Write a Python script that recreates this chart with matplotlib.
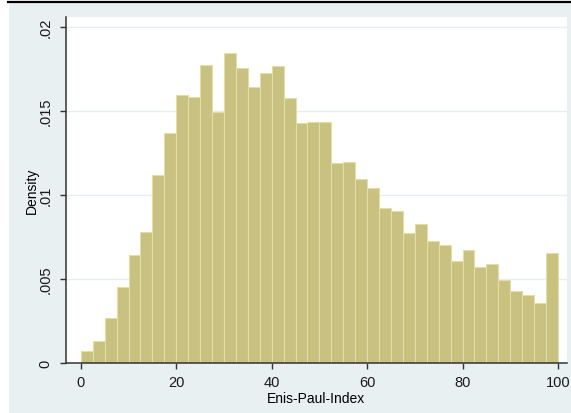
import matplotlib
matplotlib.use("Agg")
import matplotlib.pyplot as plt
from matplotlib.patches import Rectangle
from matplotlib.lines import Line2D
import numpy as np

# histogram of Enis-Paul-Index, 40 bins of width 2.5
bin_edges = np.arange(0, 102.5, 2.5)
density = [0.0007, 0.0013, 0.00266, 0.00454, 0.00641, 0.00778, 0.01119, 0.01369,
           0.01593, 0.01583, 0.01772, 0.01492, 0.01847, 0.01756, 0.01643, 0.01724,
           0.01766, 0.01577, 0.01427, 0.01432, 0.01432, 0.01188, 0.01196, 0.01093,
           0.01042, 0.00923, 0.00903, 0.00774, 0.00827, 0.00728, 0.00700, 0.00607,
           0.00675, 0.00573, 0.00587, 0.00494, 0.00429, 0.00405, 0.00357, 0.00655]

yticks = [0, 0.005, 0.01, 0.015, 0.02]
ytick_labels = ["0", ".005", ".01", ".015", ".02"]
xticks = [0, 20, 40, 60, 80, 100]

plt.rcParams.update({'font.family': ['Liberation Sans', 'DejaVu Sans'], 'font.size': 10})

W, H = 571, 414
fig = plt.figure(figsize=(W / 100, H / 100), dpi=100, facecolor='white')

# stata-like light bluish background and black rule on top
fig.add_artist(Rectangle((9 / W, 0), 1 - 9 / W, 1 - 4 / H, transform=fig.transFigure,
                         facecolor='#e8f0f2', edgecolor='none', zorder=0))
fig.add_artist(Line2D([8 / W, 1], [1 - 2.5 / H, 1 - 2.5 / H], transform=fig.transFigure,
                      color='black', linewidth=1.6))

ax = fig.add_axes([66 / W, 1 - 364 / H, (567 - 66) / W, (364 - 18) / H])
ax.set_facecolor('white')

ax.bar(bin_edges[:-1], density, width=np.diff(bin_edges), align='edge',
       color='#c9c17f', edgecolor='#e3dda9', linewidth=0.8, zorder=2)

ax.set_xlim(-3.1, 101.9)
ax.set_ylim(0, 0.0206)
ax.set_xticks(xticks)
ax.set_yticks(yticks)
ax.set_yticklabels(ytick_labels, rotation=90, va='center')
ax.yaxis.grid(True, color='#e6eef1', linewidth=1.0, zorder=0)
ax.set_axisbelow(True)

for s in ['top', 'right']:
    ax.spines[s].set_visible(False)
for s in ['left', 'bottom']:
    ax.spines[s].set_color('#333333')
    ax.spines[s].set_linewidth(1.1)

ax.tick_params(axis='both', direction='out', length=4.3, width=1, color='#333333',
               labelsize=10.5, labelcolor='#1a1a1a')
ax.tick_params(axis='y', pad=5.5)
ax.tick_params(axis='x', pad=4)

ax.set_xlabel("Enis-Paul-Index", fontsize=10, labelpad=1.5)
ax.set_ylabel("Density", fontsize=10, labelpad=0)

fig.savefig("out.png", dpi=100, facecolor='white')
